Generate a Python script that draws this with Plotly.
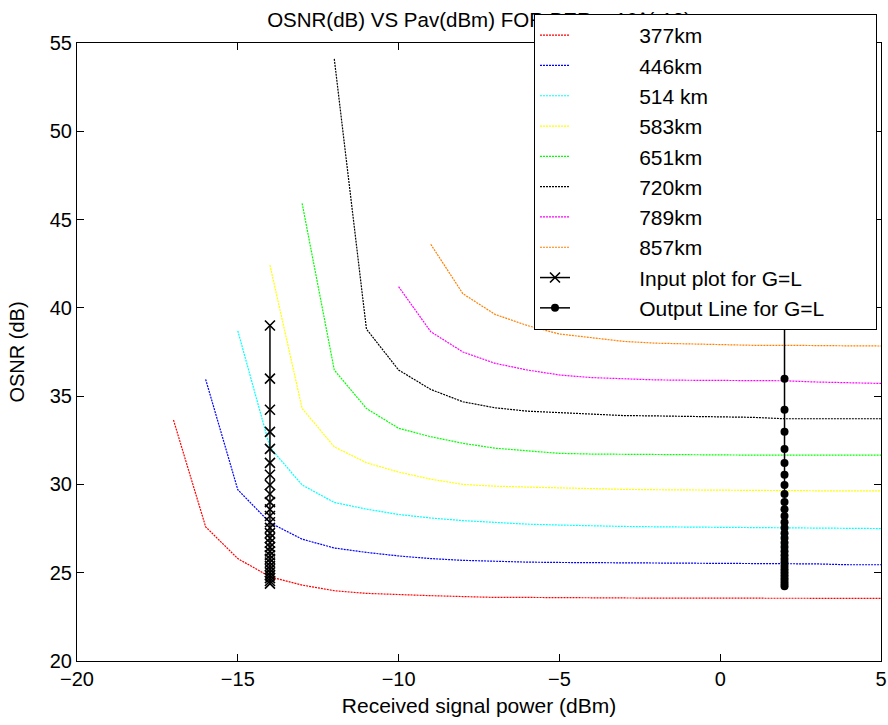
import plotly.graph_objects as go

# ---------------- data ----------------
x_377 = list(range(-17, 6))
y_377 = [33.65, 27.6, 25.8, 24.77, 24.3, 23.98, 23.83, 23.75, 23.7, 23.65, 23.6, 23.6,
         23.58, 23.57, 23.57, 23.56, 23.56, 23.55, 23.55, 23.55, 23.55, 23.55, 23.55]

x_446 = list(range(-16, 6))
y_446 = [35.95, 29.7, 27.83, 26.9, 26.4, 26.15, 25.95, 25.8, 25.7, 25.63, 25.6, 25.58,
         25.57, 25.56, 25.56, 25.55, 25.55, 25.55, 25.53, 25.5, 25.45, 25.45]

x_514 = list(range(-15, 6))
y_514 = [38.7, 32.1, 29.97, 28.98, 28.6, 28.3, 28.1, 27.95, 27.85, 27.75, 27.7, 27.65,
         27.62, 27.6, 27.58, 27.56, 27.55, 27.52, 27.51, 27.5, 27.5]

x_583 = list(range(-14, 6))
y_583 = [42.42, 34.3, 32.13, 31.23, 30.7, 30.3, 30.0, 29.9, 29.85, 29.8, 29.75, 29.72,
         29.7, 29.68, 29.66, 29.65, 29.64, 29.64, 29.64, 29.64]

x_651 = list(range(-13, 6))
y_651 = [45.92, 36.48, 34.3, 33.18, 32.7, 32.33, 32.05, 31.9, 31.76, 31.72, 31.7, 31.68,
         31.67, 31.66, 31.66, 31.66, 31.66, 31.66, 31.66]

x_720 = list(range(-12, 6))
y_720 = [54.1, 38.8, 36.48, 35.38, 34.68, 34.34, 34.15, 34.06, 33.95, 33.9, 33.88, 33.85,
         33.82, 33.8, 33.72, 33.72, 33.72, 33.72]

x_789 = list(range(-10, 6))
y_789 = [41.2, 38.65, 37.5, 36.86, 36.48, 36.2, 36.05, 35.98, 35.92, 35.9, 35.88, 35.87,
         35.87, 35.8, 35.75, 35.72]

x_857 = list(range(-9, 6))
y_857 = [43.6, 40.8, 39.63, 39.0, 38.52, 38.3, 38.1, 38.0, 37.95, 37.9, 37.88, 37.88,
         37.85, 37.85, 37.84]

# G=L input/output columns
x_input = -14
x_output = 2
y_gl = [39.00, 35.99, 34.23, 32.98, 32.01, 31.22, 30.55, 29.97, 29.46, 29.00, 28.59,
        28.21, 27.86, 27.54, 27.24, 26.96, 26.70, 26.45, 26.21, 25.99, 25.78, 25.58,
        25.38, 25.20, 25.02, 24.85, 24.69, 24.53, 24.38]
y_out_extra = [24.23]

series = [
    ("377km", x_377, y_377, "#ff0000"),
    ("446km", x_446, y_446, "#0000ff"),
    ("514 km", x_514, y_514, "#00ffff"),
    ("583km", x_583, y_583, "#ffff00"),
    ("651km", x_651, y_651, "#00ff00"),
    ("720km", x_720, y_720, "#000000"),
    ("789km", x_789, y_789, "#ff00ff"),
    ("857km", x_857, y_857, "#ff8000"),
]

title_text = "OSNR(dB) VS Pav(dBm) FOR BER = 10^(-12)"
x_range = [-20, 5]
y_range = [20, 55]

FONT = "Liberation Sans, Arial, sans-serif"
FS = 20
LFS = 21
TFS = 20.5
NB = "\u00a0"
LEAD = NB * 11
TRAIL = NB * 8

# geometry (pixels) of the figure
W, H = 888, 725
ML, MR, MB = 77, 7, 64
PLOT_TOP = 43
paper_h = H - MB
main_top = (paper_h - PLOT_TOP) / paper_h
title_px = 22  # vertical centre of the title text from the top

fig = go.Figure()
for i, (name, xs, ys, col) in enumerate(series):
    fig.add_trace(go.Scatter(x=xs, y=ys, mode="lines", name=LEAD + name,
                             legendgroup=f"g{i}",
                             line=dict(color=col, width=1.2, dash="2px,1px")))

fig.add_trace(go.Scatter(x=[x_input] * len(y_gl), y=y_gl, mode="lines+markers",
                         name=LEAD + "Input plot for G=L", legendgroup="g8",
                         line=dict(color="black", width=1.5),
                         marker=dict(symbol="x-thin", size=10, color="black",
                                     line=dict(color="black", width=1.6))))
y_out = y_gl + y_out_extra
fig.add_trace(go.Scatter(x=[x_output] * len(y_out), y=y_out, mode="lines+markers",
                         name=LEAD + "Output Line for G=L" + TRAIL, legendgroup="g9",
                         line=dict(color="black", width=1.5),
                         marker=dict(symbol="circle", size=8, color="black")))

# title placed in a thin top strip subplot (trace layer) so the legend box covers its right part
fig.add_trace(go.Scatter(x=[0.5], y=[1 - title_px / PLOT_TOP], mode="text",
                         xaxis="x2", yaxis="y2",
                         text=[title_text], textposition="middle center",
                         textfont=dict(family=FONT, size=TFS, color="black"),
                         showlegend=False, hoverinfo="skip"))

axis_common = dict(showline=True, linecolor="black", linewidth=1, mirror="ticks",
                   ticks="inside", ticklen=7, tickcolor="black", tickwidth=1,
                   showgrid=False, zeroline=False,
                   tickfont=dict(family=FONT, size=FS, color="black"))

fig.update_layout(
    width=W, height=H,
    margin=dict(l=ML, r=MR, t=0, b=MB, autoexpand=False),
    plot_bgcolor="white", paper_bgcolor="white",
    xaxis=dict(range=x_range, tickvals=[-20, -15, -10, -5, 0, 5],
               title=dict(text="Received signal power (dBm)", standoff=9,
                          font=dict(family=FONT, size=LFS, color="black")),
               **axis_common),
    yaxis=dict(range=y_range, tickvals=[20, 25, 30, 35, 40, 45, 50, 55],
               domain=[0, main_top],
               title=dict(text="OSNR (dB)", standoff=19,
                          font=dict(family=FONT, size=FS, color="black")),
               **axis_common),
    xaxis2=dict(range=[0, 1], domain=[0, 1], visible=False, anchor="y2"),
    yaxis2=dict(range=[0, 1], domain=[main_top, 1], visible=False, anchor="x2"),
    legend=dict(x=(534 - ML) / (W - ML - MR), y=(paper_h - 14) / paper_h,
                xanchor="left", yanchor="top",
                bgcolor="white", bordercolor="black", borderwidth=1,
                traceorder="grouped", tracegroupgap=0,
                font=dict(family=FONT, size=LFS, color="black")),
    showlegend=True,
)

fig.write_html("out.html")
